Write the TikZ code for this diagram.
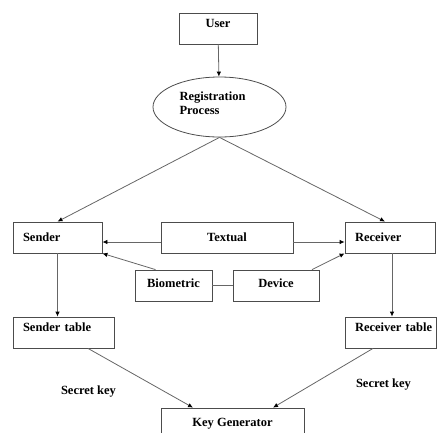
\documentclass[tikz,border=0pt]{standalone}
\usepackage{fontspec}
\setmainfont{Liberation Serif}
\usepackage{tikz}
\usetikzlibrary{arrows.meta,shapes.geometric}

\begin{document}
\begin{tikzpicture}[x=1pt,y=-1pt,
		every node/.style={font=\fontsize{12.5}{14}\selectfont\bfseries},
		box/.style={draw=black!70,line width=0.8pt,minimum height=31pt,inner sep=0pt},
		lbox/.style={box,inner xsep=10pt,align=left},
		lnk/.style={draw=black!60,line width=0.8pt,-{Latex[length=5pt,width=4.5pt,black]}}]
		\clip (0,0) rectangle (438,432);
		% top
		\node[box,minimum width=78pt,text height=9pt,text depth=11pt] (user) at (218,28.5) {User};
		\node[draw=black!70,line width=0.8pt,ellipse,minimum width=133pt,minimum height=60pt,inner sep=0pt] (reg) at (219.5,107) {};
		\node[text width=80pt,align=left] (regtxt) at (219.5,103) {Registration\\Process};
		% middle row
		\node[lbox,text width=69pt] (sender) at (57.5,237.5) {Sender};
		\node[box,minimum width=132pt] (textual) at (227,237.5) {Textual};
		\node[lbox,text width=70pt] (receiver) at (390,237.5) {Receiver};
		\node[box,minimum width=77pt,text height=9pt,text depth=5pt] (bio) at (173.5,285.5) {Biometric};
		\node[box,minimum width=86pt,text height=9pt,text depth=5pt] (device) at (276,285.5) {Device};
		% tables
		\node[lbox,text width=81pt,text height=9pt,text depth=12pt] (stable) at (63.5,332.5) {Sender table};
		\node[lbox,text width=71pt,text height=9pt,text depth=12pt] (rtable) at (390.5,332.5) {\mbox{Receiver table}};
		\node[box,minimum width=143pt] (keygen) at (232.5,423.5) {Key Generator};
		\node (skleft) at (88.5,392) {Secret key};
		\node (skright) at (383.5,385) {Secret key};

		\draw[lnk] (user) -- (reg);
		\draw[lnk] (reg.south) -- (sender.north);
		\draw[lnk] (reg.south) -- ([xshift=-5pt]receiver.north);
		\draw[lnk] ([yshift=-4.5pt]textual.west) -- ([yshift=-4.5pt]sender.east);
		\draw[lnk] ([yshift=-4.5pt]textual.east) -- ([yshift=-4.5pt]receiver.east -| receiver.west);
		\draw[lnk] ([xshift=-18pt]bio.north) -- (sender.south east);
		\draw[lnk] ([xshift=36pt]device.north) -- (receiver.south west);
		\draw[draw=black!60,line width=0.8pt] (bio) -- (device);
		\draw[lnk] (sender.south) -- (sender.south |- stable.north);
		\draw[lnk] ([xshift=2pt]receiver.south) -- ([xshift=2pt]receiver.south |- rtable.north);
		\draw[lnk] ([xshift=24.5pt]stable.south) -- ([xshift=-39.5pt]keygen.north);
		\draw[lnk] ([xshift=-17.5pt]rtable.south) -- ([xshift=40.5pt]keygen.north);
	\end{tikzpicture}
\end{document}
